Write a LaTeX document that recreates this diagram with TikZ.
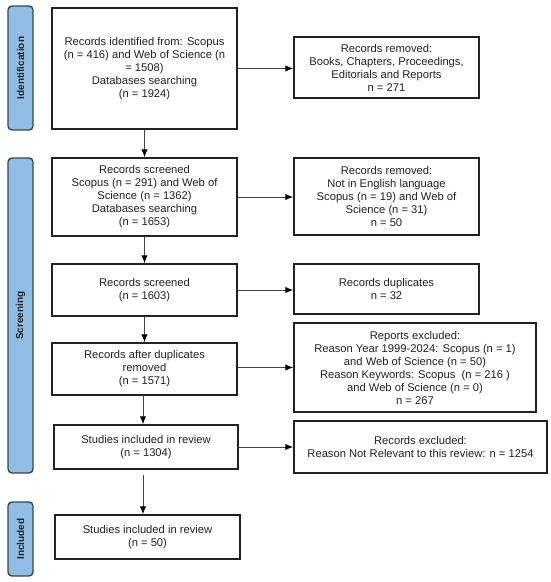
\documentclass[tikz,border=0pt]{standalone}
\usepackage{fontspec}
\setmainfont{Liberation Sans}
\usetikzlibrary{arrows.meta}
\definecolor{barfill}{HTML}{8FBDE3}
\definecolor{barline}{HTML}{3A4550}
\definecolor{boxline}{HTML}{222222}
\definecolor{txt}{HTML}{222222}
\definecolor{conn}{HTML}{444444}
\tikzset{
  box/.style={draw=boxline, line width=1.5pt, fill=white, inner sep=0pt, align=center, text=txt,
    font=\fontsize{11.2}{13}\selectfont},
  bar/.style={draw=barline, line width=1.4pt, fill=barfill, rounded corners=4pt, inner sep=0pt,
    minimum width=25pt},
  barlabel/.style={rotate=90, font=\fontsize{10}{12}\selectfont\bfseries, text=txt},
  arr/.style={draw=conn, line width=1pt, -{Latex[length=8pt,width=6.5pt,color=black]}}
}
\begin{document}
\begin{tikzpicture}[x=1pt,y=-1pt]
\useasboundingbox (0,0) rectangle (550,582);
% phase bars
\node[bar, minimum height=124pt] (barid) at (20.5,68) {};
\node[barlabel] (labid) at (barid.center) {Identification};
\node[bar, minimum height=315pt] (barsc) at (20.5,315.5) {};
\node[barlabel] (labsc) at (barsc.center) {Screening};
\node[bar, minimum height=74pt] (barin) at (20.5,539) {};
\node[barlabel] (labin) at (barin.center) {Included};
% left column
\node[box, minimum width=185pt, minimum height=121pt] (b1) at (144.5,68.5)
  {Records identified from: Scopus\\(n = 416) and Web of Science (n\\= 1508)\\Databases searching\\(n = 1924)};
\node[box, minimum width=185pt, minimum height=78pt] (b2) at (144.5,197)
  {Records screened\\Scopus (n = 291) and Web of\\Science (n = 1362)\\Databases searching\\(n = 1653)};
\node[box, minimum width=185pt, minimum height=52pt] (b3) at (144.5,290)
  {Records screened\\(n = 1603)};
\node[box, minimum width=185pt, minimum height=52pt] (b4) at (144.5,369)
  {Records after duplicates\\removed\\(n = 1571)};
\node[box, minimum width=184pt, minimum height=44pt] (b5) at (146,447)
  {Studies included in review\\(n = 1304)};
\node[box, minimum width=185pt, minimum height=44pt] (b6) at (147.5,537)
  {Studies included in review\\(n = 50)};
% right column
\node[box, minimum width=185pt, minimum height=61pt] (r1) at (386.5,67.5)
  {Records removed:\\Books, Chapters, Proceedings,\\Editorials and Reports\\n = 271};
\node[box, minimum width=185pt, minimum height=77pt] (r2) at (386.5,196.5)
  {Records removed:\\Not in English language\\Scopus (n = 19) and Web of\\Science (n = 31)\\n = 50};
\node[box, minimum width=185pt, minimum height=50pt] (r3) at (386.5,289)
  {Records duplicates\\n = 32};
\node[box, minimum width=242pt, minimum height=89pt] (r4) at (415,367.5)
  {Reports excluded:\\Reason Year 1999-2024: Scopus (n = 1)\\and Web of Science (n = 50)\\Reason Keywords: Scopus~ (n = 216 )\\and Web of Science (n = 0)\\n = 267};
\node[box, minimum width=253pt, minimum height=52pt] (r5) at (420.5,447)
  {Records excluded:\\Reason Not Relevant to this review: n = 1254};
% vertical arrows
\draw[arr] (b1.south) -- (b1.south |- b2.north);
\draw[arr] (b2.south) -- (b2.south |- b3.north);
\draw[arr] (b3.south) -- (b3.south |- b4.north);
\draw[arr] ([xshift=-1.5pt]b4.south) -- ([xshift=-1.5pt]b4.south |- b5.north);
\draw[arr] ([xshift=-3pt,yshift=-5pt]b5.south) -- ([xshift=-3pt]b5.south |- b6.north);
% horizontal arrows
\draw[arr] (b1.east) -- (b1.east -| r1.west);
\draw[arr] (b2.east) -- (b2.east -| r2.west);
\draw[arr] (b3.east) -- (b3.east -| r3.west);
\draw[arr] ([yshift=1.5pt]b4.east) -- ([yshift=1.5pt]b4.east -| r4.west);
\draw[arr] (b5.east) -- (b5.east -| r5.west);
\end{tikzpicture}
\end{document}
